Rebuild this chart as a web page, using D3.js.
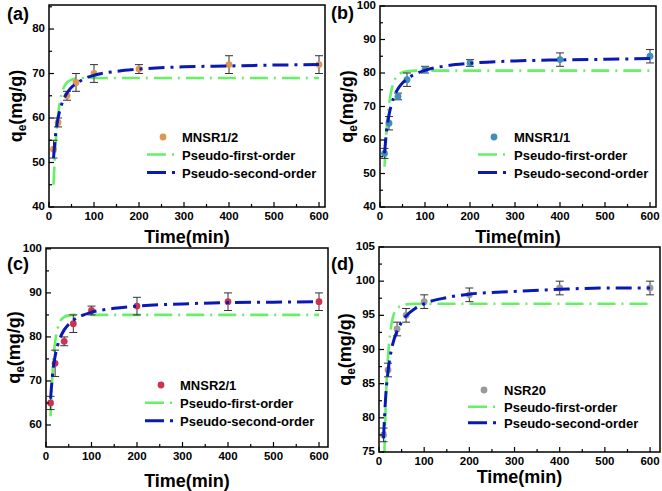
<!DOCTYPE html>
<html>
<head>
<meta charset="utf-8">
<script src="https://cdn.jsdelivr.net/npm/d3@7"></script>
<style>
  body { margin: 0; background: #fff; }
  svg { display: block; font-family: "Liberation Sans", Arial, sans-serif; }
  .tick-label { font-size: 11.5px; font-weight: bold; }
  .axis-title { font-size: 18px; font-weight: bold; }
  .legend-text { font-size: 13px; font-weight: bold; }
</style>
</head>
<body>
<svg id="chart" width="662" height="491"></svg>
<script>
// sampling times (min)
const timeObs = [10, 20, 40, 60, 100, 200, 400, 600];
const timeFit = [10, 15, 20, 25, 30, 40, 50, 60, 80, 100, 150, 200, 300, 400, 500, 600];
const xTicks = [0, 100, 200, 300, 400, 500, 600];

const panelTags = ['(a)', '(b)', '(c)', '(d)'];
const sampleNames = ['MNSR1/2', 'MNSR1/1', 'MNSR2/1', 'NSR20'];
const markerColors = ['#e0964e', '#3f8fb8', '#cc3350', '#9a9a9a'];

// (a) MNSR1/2
const qeA = [53, 59, 65, 68, 70, 71, 72, 72];
const errA = [2, 1, 1, 2, 2, 1, 2, 2];
const pfoA = [45, 54.8, 60.6, 64.1, 66.1, 68.0, 68.6, 68.9, 69, 69, 69, 69, 69, 69, 69, 69];
const psoA = [51, 56.6, 59.9, 62.0, 63.6, 65.6, 66.9, 67.7, 68.9, 69.6, 70.5, 71.0, 71.5, 71.7, 71.9, 72.0];
const yTicksA = [40, 50, 60, 70, 80];

// (b) MNSR1/1
const qeB = [56, 65, 73, 78, 81, 83, 84, 85];
const errB = [1.5, 2, 1, 2, 1, 1, 2, 2];
const pfoB = [52, 63.6, 70.5, 74.6, 77.1, 79.4, 80.2, 80.5, 80.7, 80.7, 80.7, 80.7, 80.7, 80.7, 80.7, 80.7];
const psoB = [56, 63.2, 67.5, 70.4, 72.5, 75.3, 77.0, 78.2, 79.8, 80.8, 82.2, 82.9, 83.6, 83.9, 84.1, 84.3];
const yTicksB = [40, 50, 60, 70, 80, 90, 100];

// (c) MNSR2/1
const qeC = [65, 74, 79, 83, 86, 87, 88, 88];
const errC = [1.5, 3, 1, 2, 1, 2, 2, 2];
const pfoC = [62, 73.0, 78.8, 81.7, 83.3, 84.5, 84.9, 85, 85, 85, 85, 85, 85, 85, 85, 85];
const psoC = [66, 72.1, 75.6, 77.9, 79.5, 81.6, 82.9, 83.8, 84.9, 85.6, 86.5, 87.0, 87.5, 87.8, 87.9, 88.0];
const yTicksC = [60, 70, 80, 90, 100];

// (d) NSR20
const qeD = [77.5, 87, 93, 95, 97, 98, 99, 99];
const errD = [1, 1, 1, 1, 1, 1, 1, 1];
const pfoD = [69.5, 82.2, 89.0, 92.5, 94.5, 96.0, 96.4, 96.6, 96.7, 96.7, 96.7, 96.7, 96.7, 96.7, 96.7, 96.7];
const psoD = [77, 83.3, 86.8, 89.1, 90.7, 92.7, 94.0, 94.9, 96.0, 96.7, 97.6, 98.1, 98.5, 98.8, 99.0, 99.0];
const yTicksD = [75, 80, 85, 90, 95, 100, 105];

const pfoColor = '#66f066';
const psoColor = '#0a18b4';

// frame and scale setup for every panel
const panels = [
  { left: 49, right: 325, top: 5, bottom: 207, xMax: 613.3, yDom: [40, 85.4], yTicks: yTicksA, minor: 5,
    qe: qeA, err: errA, pfo: pfoA, pso: psoA, tag: [7, 20], yTitleX: 22, xTitleY: 243,
    leg: { mx: 163, my: 137, lx: 147, tx: 182, l2: 154.5, l3: 172.5 } },
  { left: 380, right: 656, top: 6, bottom: 207, xMax: 613.3, yDom: [40, 100], yTicks: yTicksB, minor: 5,
    qe: qeB, err: errB, pfo: pfoB, pso: psoB, tag: [331, 19], yTitleX: 353, xTitleY: 243,
    leg: { mx: 494, my: 137, lx: 478, tx: 514, l2: 154.5, l3: 172.5 } },
  { left: 46, right: 328, top: 248, bottom: 447, xMax: 619.8, yDom: [55, 100.2], yTicks: yTicksC, minor: 5,
    qe: qeC, err: errC, pfo: pfoC, pso: psoC, tag: [7, 270], yTitleX: 20, xTitleY: 487,
    leg: { mx: 161, my: 385, lx: 145, tx: 180, l2: 402.7, l3: 420.7 } },
  { left: 379, right: 660, top: 247, bottom: 452, xMax: 622, yDom: [75, 105], yTicks: yTicksD, minor: 2.5,
    qe: qeD, err: errD, pfo: pfoD, pso: psoD, tag: [331, 270], yTitleX: 351, xTitleY: 483,
    leg: { mx: 484, my: 390, lx: 468, tx: 504, l2: 406.7, l3: 422.7 } }
];

const svg = d3.select('#chart');

panels.forEach(function(p, i) {
  let x = d3.scaleLinear().domain([0, p.xMax]).range([p.left, p.right]);
  let y = d3.scaleLinear().domain(p.yDom).range([p.bottom, p.top]);
  let g = svg.append('g');

  let clipId = 'clip' + i;
  svg.append('clipPath').attr('id', clipId)
    .append('rect')
    .attr('x', p.left).attr('y', p.top)
    .attr('width', p.right - p.left).attr('height', p.bottom - p.top);

  // fitted curves
  let line = d3.line()
    .x(function(d) { return x(d[0]); })
    .y(function(d) { return y(d[1]); })
    .curve(d3.curveMonotoneX);

  g.append('path')
    .attr('clip-path', 'url(#' + clipId + ')')
    .attr('d', line(d3.zip(timeFit, p.pfo)))
    .attr('fill', 'none').attr('stroke', pfoColor)
    .attr('stroke-width', 2.6).attr('stroke-dasharray', '18,6,2,6');

  // error bars
  let eb = g.append('g').attr('stroke', '#333').attr('stroke-width', 1);
  timeObs.forEach(function(t, k) {
    let cx = x(t), y1 = y(p.qe[k] - p.err[k]), y2 = y(p.qe[k] + p.err[k]);
    eb.append('line').attr('x1', cx).attr('x2', cx).attr('y1', y1).attr('y2', y2);
    eb.append('line').attr('x1', cx - 4).attr('x2', cx + 4).attr('y1', y1).attr('y2', y1);
    eb.append('line').attr('x1', cx - 4).attr('x2', cx + 4).attr('y1', y2).attr('y2', y2);
  });

  // observed points
  g.append('g').selectAll('circle')
    .data(d3.zip(timeObs, p.qe))
    .enter().append('circle')
    .attr('clip-path', 'url(#' + clipId + ')')
    .attr('cx', function(d) { return x(d[0]); })
    .attr('cy', function(d) { return y(d[1]); })
    .attr('r', 3.4)
    .attr('fill', markerColors[i]);

  g.append('path')
    .attr('clip-path', 'url(#' + clipId + ')')
    .attr('d', line(d3.zip(timeFit, p.pso)))
    .attr('fill', 'none').attr('stroke', psoColor)
    .attr('stroke-width', 3).attr('stroke-dasharray', '16,6,3,6');

  // frame
  g.append('rect')
    .attr('x', p.left).attr('y', p.top)
    .attr('width', p.right - p.left).attr('height', p.bottom - p.top)
    .attr('fill', 'none').attr('stroke', '#000').attr('stroke-width', 1.5);

  // inward ticks, major and minor
  let ax = g.append('g').attr('stroke', '#000').attr('stroke-width', 1.2);
  xTicks.forEach(function(t) {
    ax.append('line').attr('x1', x(t)).attr('x2', x(t)).attr('y1', p.bottom).attr('y2', p.bottom - 5);
    if (t + 50 < p.xMax) {
      ax.append('line').attr('x1', x(t + 50)).attr('x2', x(t + 50)).attr('y1', p.bottom).attr('y2', p.bottom - 3);
    }
  });
  p.yTicks.forEach(function(v) {
    ax.append('line').attr('x1', p.left).attr('x2', p.left + 5).attr('y1', y(v)).attr('y2', y(v));
    let m = v + p.minor;
    if (m < p.yDom[1]) {
      ax.append('line').attr('x1', p.left).attr('x2', p.left + 3).attr('y1', y(m)).attr('y2', y(m));
    }
  });
  let lowMinor = p.yTicks[0] - p.minor;
  if (lowMinor > p.yDom[0]) {
    ax.append('line').attr('x1', p.left).attr('x2', p.left + 3).attr('y1', y(lowMinor)).attr('y2', y(lowMinor));
  }

  // tick labels
  g.selectAll('text.xl').data(xTicks).enter().append('text')
    .attr('class', 'tick-label')
    .attr('x', function(d) { return x(d); })
    .attr('y', p.bottom + 13)
    .attr('text-anchor', 'middle')
    .text(function(d) { return d; });
  g.selectAll('text.yl').data(p.yTicks).enter().append('text')
    .attr('class', 'tick-label')
    .attr('x', p.left - 4)
    .attr('y', function(d) { return y(d) + 3; })
    .attr('text-anchor', 'end')
    .text(function(d) { return d; });

  // titles
  g.append('text').attr('class', 'axis-title')
    .attr('x', (p.left + p.right) / 2).attr('y', p.xTitleY)
    .attr('text-anchor', 'middle')
    .text('Time(min)');

  let yt = g.append('text').attr('class', 'axis-title')
    .attr('text-anchor', 'middle')
    .attr('transform', 'translate(' + p.yTitleX + ',' + ((p.top + p.bottom) / 2) + ') rotate(-90)');
  yt.append('tspan').text('q');
  yt.append('tspan').attr('dy', 4).style('font-size', '12px').text('e');
  yt.append('tspan').attr('dy', -4).text('(mg/g)');

  g.append('text').attr('class', 'axis-title')
    .attr('x', p.tag[0]).attr('y', p.tag[1])
    .text(panelTags[i]);

  // legend
  let L = p.leg;
  g.append('circle').attr('cx', L.mx).attr('cy', L.my).attr('r', 3.4).attr('fill', markerColors[i]);
  g.append('text').attr('class', 'legend-text').attr('x', L.tx).attr('y', L.my + 5).text(sampleNames[i]);
  g.append('line')
    .attr('x1', L.lx).attr('x2', L.lx + 28).attr('y1', L.l2).attr('y2', L.l2)
    .attr('stroke', pfoColor).attr('stroke-width', 2.6).attr('stroke-dasharray', '19,6,2,6');
  g.append('text').attr('class', 'legend-text').attr('x', L.tx).attr('y', L.l2 + 5).text('Pseudo-first-order');
  g.append('line')
    .attr('x1', L.lx).attr('x2', L.lx + 28).attr('y1', L.l3).attr('y2', L.l3)
    .attr('stroke', psoColor).attr('stroke-width', 3).attr('stroke-dasharray', '19,6,3,6');
  g.append('text').attr('class', 'legend-text').attr('x', L.tx).attr('y', L.l3 + 5).text('Pseudo-second-order');
});
</script>
</body>
</html>
